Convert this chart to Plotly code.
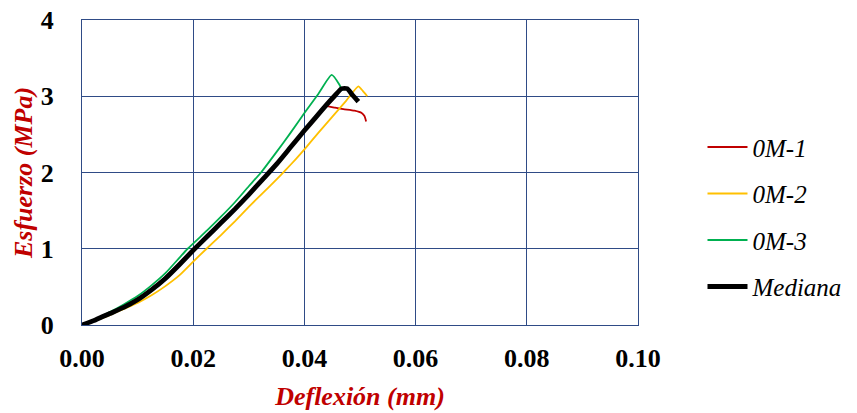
import plotly.graph_objects as go

# Data
x_0m1 = [0, 0.0025, 0.005, 0.0075, 0.01, 0.0125, 0.015, 0.0175, 0.02, 0.0225, 0.025, 0.0275, 0.03,
         0.0325, 0.035, 0.0375, 0.04, 0.042, 0.0437, 0.0455, 0.047, 0.049, 0.0503, 0.0508, 0.0511]
y_0m1 = [0, 0.08, 0.16, 0.25, 0.35, 0.48, 0.63, 0.81, 0.99, 1.17, 1.35, 1.53, 1.72,
         1.92, 2.12, 2.34, 2.56, 2.72, 2.87, 2.85, 2.83, 2.81, 2.78, 2.74, 2.67]

x_0m2 = [0, 0.0025, 0.005, 0.0075, 0.01, 0.0125, 0.015, 0.0175, 0.02, 0.0224, 0.025, 0.0275, 0.03,
         0.0325, 0.035, 0.0366, 0.0385, 0.0402, 0.0425, 0.045, 0.0475, 0.0497, 0.0505, 0.0513]
y_0m2 = [0, 0.06, 0.13, 0.21, 0.29, 0.39, 0.51, 0.65, 0.83, 1.0, 1.18, 1.36, 1.55,
         1.73, 1.91, 2.03, 2.18, 2.32, 2.52, 2.73, 2.94, 3.13, 3.07, 3.0]

x_0m3 = [0, 0.0025, 0.005, 0.0075, 0.01, 0.0125, 0.015, 0.0175, 0.019, 0.0225, 0.025, 0.0275, 0.03,
         0.0322, 0.035, 0.0375, 0.04, 0.0425, 0.0449, 0.0463, 0.0468]
y_0m3 = [0, 0.08, 0.17, 0.27, 0.38, 0.52, 0.68, 0.88, 1.0, 1.24, 1.42, 1.61, 1.82,
         2.0, 2.27, 2.52, 2.78, 3.03, 3.28, 3.15, 3.07]

x_med = [0, 0.0025, 0.005, 0.0075, 0.01, 0.0125, 0.015, 0.0175, 0.02, 0.0225, 0.025, 0.0275, 0.03,
         0.0325, 0.035, 0.0375, 0.04, 0.042, 0.044, 0.0455, 0.0467, 0.0477, 0.0485, 0.0497]
y_med = [0, 0.07, 0.15, 0.23, 0.33, 0.46, 0.61, 0.79, 0.98, 1.16, 1.34, 1.52, 1.71,
         1.91, 2.11, 2.33, 2.55, 2.72, 2.89, 3.01, 3.10, 3.10, 3.03, 2.93]

series_names = ["0M-1", "0M-2", "0M-3", "Mediana"]
x_ticks = [0, 0.02, 0.04, 0.06, 0.08, 0.10]
y_ticks = [0, 1, 2, 3, 4]

colors = ["#C00000", "#FFC000", "#00B050", "#000000"]
widths = [1.8, 1.8, 1.8, 4.8]
xs = [x_0m1, x_0m2, x_0m3, x_med]
ys = [y_0m1, y_0m2, y_0m3, y_med]

SERIF = "Liberation Serif, Times New Roman, serif"
GRID = "#2F4B86"

fig = go.Figure()
for i, name in enumerate(series_names):
    fig.add_trace(go.Scatter(
        x=xs[i], y=ys[i], mode="lines", name="<i>" + name + "</i>",
        line=dict(color=colors[i], width=widths[i], shape="spline", smoothing=0.5),
        legendgroup=name,
    ))

fig.update_layout(
    width=857, height=413,
    margin=dict(l=82, r=219, t=20, b=88, autoexpand=False),
    paper_bgcolor="white", plot_bgcolor="white",
    showlegend=True,
    legend=dict(
        x=1.116, xanchor="left", xref="paper", y=0.355, yanchor="middle",
        font=dict(family=SERIF, size=25, color="#000000"),
        tracegroupgap=11,
        itemwidth=40,
        bgcolor="rgba(0,0,0,0)",
    ),
    xaxis=dict(
        range=[0, 0.10], tickvals=x_ticks, tickformat=".2f", automargin=False,
        showgrid=True, gridcolor=GRID, gridwidth=1,
        showline=True, linecolor=GRID, linewidth=1, mirror=True,
        zeroline=False, ticks="",
        ticklabelstandoff=10,
        tickfont=dict(family=SERIF, size=26, color="#000000", weight="bold"),
        title=dict(text="Deflexión (mm)", standoff=14,
                   font=dict(family=SERIF, size=26, color="#C00000", weight="bold", style="italic")),
    ),
    yaxis=dict(
        range=[0, 4], tickvals=y_ticks, automargin=False,
        showgrid=True, gridcolor=GRID, gridwidth=1,
        showline=True, linecolor=GRID, linewidth=1, mirror=True,
        zeroline=False, ticks="",
        ticklabelstandoff=22,
        tickfont=dict(family=SERIF, size=26, color="#000000", weight="bold"),
        title=dict(text="Esfuerzo (MPa)", standoff=0,
                   font=dict(family=SERIF, size=26, color="#C00000", weight="bold", style="italic")),
    ),
)

fig.write_html("out.html")
